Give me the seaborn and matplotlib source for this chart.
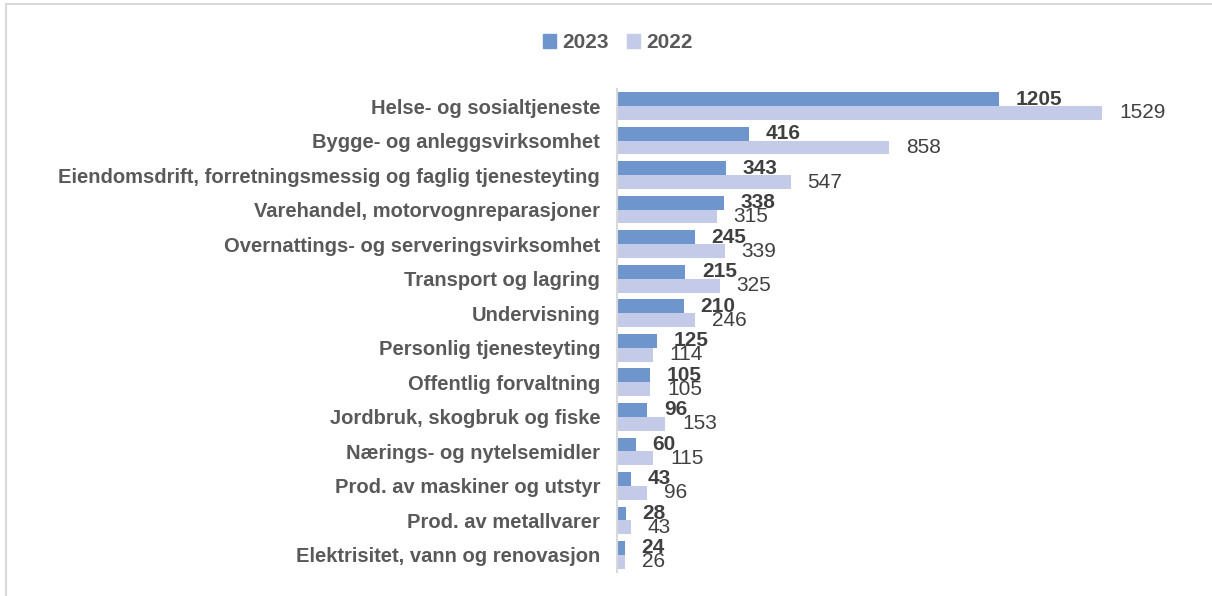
import pandas as pd
import matplotlib
matplotlib.use('Agg')
import matplotlib.pyplot as plt
import seaborn as sns
from matplotlib.patches import Rectangle

categories = [
    'Helse- og sosialtjeneste',
    'Bygge- og anleggsvirksomhet',
    'Eiendomsdrift, forretningsmessig og faglig tjenesteyting',
    'Varehandel, motorvognreparasjoner',
    'Overnattings- og serveringsvirksomhet',
    'Transport og lagring',
    'Undervisning',
    'Personlig tjenesteyting',
    'Offentlig forvaltning',
    'Jordbruk, skogbruk og fiske',
    'Nærings- og nytelsemidler',
    'Prod. av maskiner og utstyr',
    'Prod. av metallvarer',
    'Elektrisitet, vann og renovasjon',
]
values_2023 = [1205, 416, 343, 338, 245, 215, 210, 125, 105, 96, 60, 43, 28, 24]
values_2022 = [1529, 858, 547, 315, 339, 325, 246, 114, 105, 153, 115, 96, 43, 26]

df = pd.DataFrame({
    'category': categories * 2,
    'value': values_2023 + values_2022,
    'year': ['2023'] * len(categories) + ['2022'] * len(categories),
})

sns.set_style('white')
plt.rcParams['font.family'] = ['Liberation Sans', 'DejaVu Sans']

fig = plt.figure(figsize=(12.12, 5.96), dpi=100)
ax = fig.add_axes([0.509, 0.040, 0.473, 0.811])

palette = {'2023': '#6f96cc', '2022': '#c3cbe8'}
sns.barplot(data=df, y='category', x='value', hue='year', orient='h',
            palette=palette, width=0.8, saturation=1, linewidth=0,
            ax=ax, legend=False)

ax.set_xlim(0, 1806)
ax.set_xlabel('')
ax.set_ylabel('')
ax.set_xticks([])
for s in ['top', 'right', 'bottom']:
    ax.spines[s].set_visible(False)
ax.spines['left'].set_color('#d9d9d9')
ax.spines['left'].set_linewidth(1.5)
ax.tick_params(axis='y', length=0, pad=12, labelsize=14.5, labelcolor='#595959')
for lbl in ax.get_yticklabels():
    lbl.set_fontweight('bold')

# value labels: 2023 bold, 2022 regular
ax.bar_label(ax.containers[0], padding=12, fontsize=15, fontweight='bold', color='#404040')
ax.bar_label(ax.containers[1], padding=12, fontsize=15, color='#404040')

handles = [Rectangle((0, 0), 1, 1, color=palette['2023']),
           Rectangle((0, 0), 1, 1, color=palette['2022'])]
leg = fig.legend(handles, ['2023', '2022'], loc='center', bbox_to_anchor=(0.51, 0.928),
                 ncol=2, frameon=False, handlelength=0.6, handleheight=0.6,
                 handletextpad=0.3, columnspacing=0.9,
                 prop={'size': 15, 'weight': 'bold'})
for t in leg.get_texts():
    t.set_color('#595959')

# light frame around the chart area
fig.patches.append(Rectangle((6 / 1212, -0.05), 1.1, 1 - 4 / 596 + 0.05,
                             transform=fig.transFigure, fill=False,
                             edgecolor='#d9d9d9', linewidth=1.5))

fig.savefig('out.png', dpi=100)
